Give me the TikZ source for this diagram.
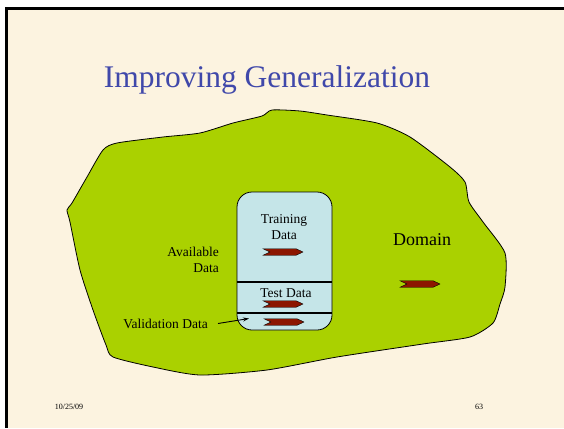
\documentclass[tikz,border=0pt]{standalone}
\usepackage{fontspec}
\setmainfont{Liberation Serif}
\usepackage{xcolor}
\usepackage{tikz}
\usetikzlibrary{shapes.symbols,positioning,arrows.meta}

\definecolor{slidecream}{RGB}{252,243,224}
\definecolor{domaingreen}{RGB}{170,209,0}
\definecolor{boxblue}{RGB}{197,229,232}
\definecolor{arrowred}{RGB}{140,22,0}
\definecolor{titleblue}{RGB}{64,72,170}

\tikzset{
  txt/.style={font=\fontsize{13.5}{16.5}\selectfont, inner sep=0pt, align=center},
  datarrow/.style={signal, signal to=east, signal from=west, fill=arrowred,
    draw=black, line width=0.4pt, minimum width=40pt, minimum height=6.5pt,
    inner sep=0pt, signal pointer angle=50},
}

\begin{document}
\begin{tikzpicture}[x=1pt,y=-1pt]
            \useasboundingbox (0,0) rectangle (564,428);
            \fill[white] (0,0) rectangle (564,428);
            \fill[slidecream] (6,9) rectangle (564,428);
            \draw[line width=3pt] (564,9) -- (6,9) -- (6,428);

            \node[titleblue, font=\fontsize{31.5}{36}\selectfont] (title) at (267,80) {Improving Generalization};

            % the domain, drawn as a rough blob
            \draw[fill=domaingreen, line width=0.8pt] plot[smooth cycle, tension=0.4] coordinates {
              (272,110) (300,111) (327,115) (377,123) (410,137) (450,167) (465,182)
              (469,202) (483,222) (505,253) (505,287) (500,304) (493,323) (470,337)
              (423,344) (337,357) (267,370) (200,375) (153,367) (113,357) (106,345)
              (93,310) (80,270) (70,222) (67,210) (72,203) (87,177) (103,150)
              (117,143) (163,137) (200,133) (233,123) (262,116)};

            % available data, split in three
            \node[draw, fill=boxblue, rounded corners=15pt, line width=0.8pt,
                  minimum width=95pt, minimum height=138pt] (avail) at (284.5,261) {};
            \draw[line width=2pt] (237,282) -- (332,282);
            \draw[line width=2pt] (237,313) -- (332,313);

            \node[txt] (train) at (284,227) {Training\\Data};
            \node[datarrow] (trainarr) at (283,252) {};
            \node[txt] (test) at (286,293) {Test Data};
            \node[datarrow] (testarr) at (283,304) {};
            \node[datarrow] (valarr) at (284,322) {};

            \node[txt, align=right, anchor=east] (availlbl) at (219,260) {Available\\Data};
            \node[txt, anchor=east] (val) at (208,324) {Validation Data};
            \coordinate (valtip) at (249,318.5);
            \draw[-{Stealth[length=6pt,width=4pt]}, line width=0.9pt] (val.east) ++(10,-0.5) -- (valtip);

            \node[txt, font=\fontsize{18}{20}\selectfont] (domain) at (422,240) {Domain};
            \node[datarrow] (domainarr) at (420,284) {};

            \node[font=\fontsize{8}{10}\selectfont] (date) at (69,407) {10/25/09};
            \node[font=\fontsize{8}{10}\selectfont] (page) at (479,407) {63};
        \end{tikzpicture}
\end{document}
